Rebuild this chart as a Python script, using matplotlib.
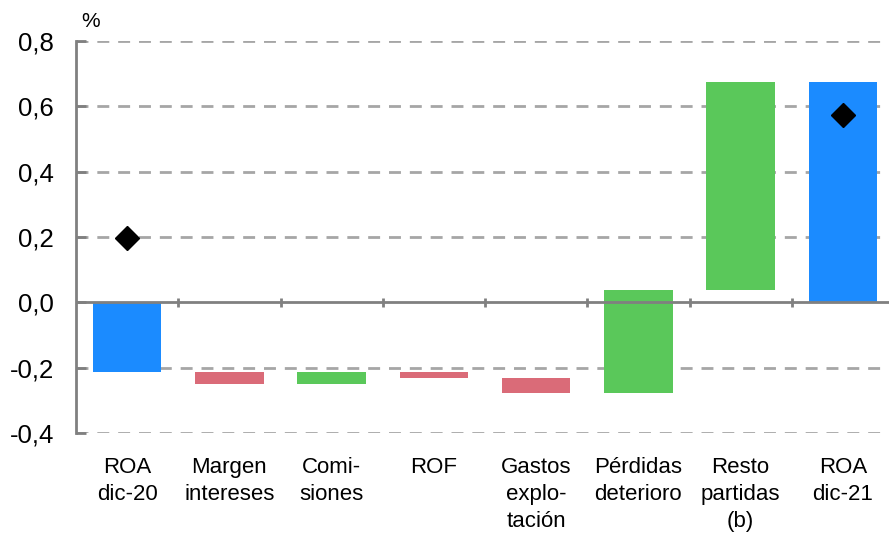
import numpy as np
import matplotlib.pyplot as plt

plt.rcParams['font.family'] = ['Liberation Sans', 'DejaVu Sans']

labels = ["ROA\ndic-20", "Margen\nintereses", "Comi-\nsiones", "ROF",
          "Gastos\nexplo-\ntación", "Pérdidas\ndeterioro", "Resto\npartidas\n(b)", "ROA\ndic-21"]
roa_start = -0.213
deltas = [-0.037, 0.037, -0.019, -0.046, 0.315, 0.637]
roa_end = 0.674
diamonds = [0.197, 0.572]  # marker values on the first and last bar

BLUE = "#1B8BFF"
GREEN = "#5AC85A"
RED = "#DA6B78"
GRID = "#A6A6A6"
AXIS = "#808080"

# waterfall: running total gives base of each change bar
cum = roa_start + np.cumsum(deltas)
prev = np.concatenate([[roa_start], cum[:-1]])
bottoms = [0] + list(prev) + [0]
heights = [roa_start] + list(cum - prev) + [roa_end]
colors = [BLUE] + [GREEN if d > 0 else RED for d in deltas] + [BLUE]

x = np.arange(len(labels))

fig = plt.figure(figsize=(8.89, 5.33), dpi=100)
ax = fig.add_axes([76 / 889, 100 / 533, 818 / 889, 392 / 533])

ax.set_ylim(-0.4, 0.8)
ax.set_xlim(-0.5, len(labels) - 0.5)
yt = np.arange(-0.4, 0.81, 0.2)
ax.set_yticks(yt)
ax.set_yticklabels([f"{v:.1f}".replace(".", ",") for v in yt])

for v in yt:
    if abs(v) > 1e-9:
        ax.axhline(v, color=GRID, lw=2, dashes=(4.3, 3.2), zorder=0)

ax.bar(x, heights, bottom=bottoms, width=0.67, color=colors, zorder=2)
ax.plot([x[0], x[-1]], diamonds, 'D', color='black', ms=12.5, zorder=4)

# zero line with category separators
ax.axhline(0, color=AXIS, lw=2, zorder=3)
sep = np.arange(len(labels) + 1) - 0.5
ax.vlines(sep[1:], -0.013, 0.013, color=AXIS, lw=2, zorder=3)

for s in ['top', 'right', 'bottom']:
    ax.spines[s].set_visible(False)
ax.spines['left'].set_color(AXIS)
ax.spines['left'].set_linewidth(2)
ax.tick_params(axis='y', direction='in', length=7, width=2, color=AXIS,
               labelsize=18.5, pad=16)
ax.set_xticks(x)
ax.set_xticklabels(labels, fontsize=16, linespacing=1.4, va='top')
ax.tick_params(axis='x', length=0, pad=17)

ax.text(0.006, 1.025, "%", transform=ax.transAxes, fontsize=15, ha='left', va='bottom')

plt.savefig("out.png", dpi=100)
